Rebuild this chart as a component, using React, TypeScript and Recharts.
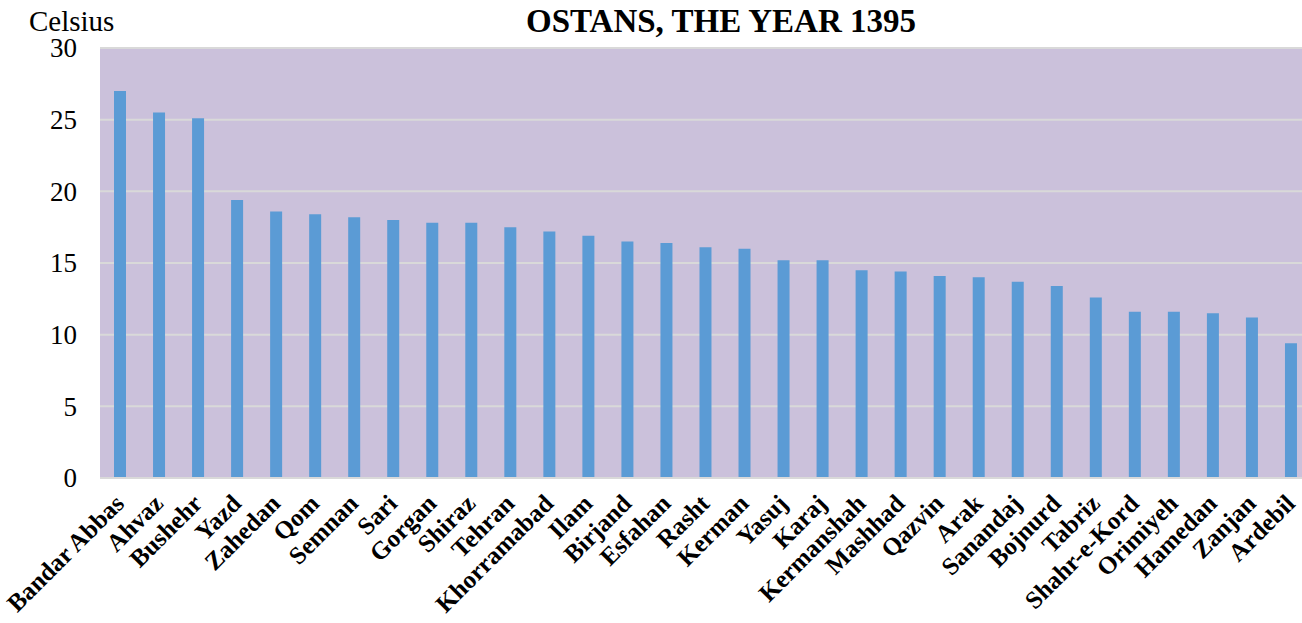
import { BarChart, Bar, XAxis, YAxis, CartesianGrid } from "recharts";

const cities = [
  "Bandar Abbas", "Ahvaz", "Bushehr", "Yazd", "Zahedan", "Qom", "Semnan",
  "Sari", "Gorgan", "Shiraz", "Tehran", "Khorramabad", "Ilam", "Birjand",
  "Esfahan", "Rasht", "Kerman", "Yasuj", "Karaj", "Kermanshah", "Mashhad",
  "Qazvin", "Arak", "Sanandaj", "Bojnurd", "Tabriz", "Shahr-e-Kord",
  "Orimiyeh", "Hamedan", "Zanjan", "Ardebil",
];

const temps = [
  27.0, 25.5, 25.1, 19.4, 18.6, 18.4, 18.2, 18.0, 17.8, 17.8, 17.5, 17.2,
  16.9, 16.5, 16.4, 16.1, 16.0, 15.2, 15.2, 14.5, 14.4, 14.1, 14.0, 13.7,
  13.4, 12.6, 11.6, 11.6, 11.5, 11.2, 9.4,
];

const yTicks = [0, 5, 10, 15, 20, 25, 30];

const data = cities.map((city, i) => ({ city, temp: temps[i] }));

const FONT = '"Liberation Serif", "Times New Roman", serif';

const CityTick = ({ x, y, payload }: any) => (
  <g transform={`translate(${x + 6},${y + 27}) rotate(-45)`}>
    <text
      x={0}
      y={0}
      textAnchor="end"
      style={{ fontFamily: FONT, fontWeight: "bold", fontSize: 25 }}
      fill="#000"
    >
      {payload.value}
    </text>
  </g>
);

const TempTick = ({ x, y, payload }: any) => (
  <text
    x={x}
    y={y}
    dy="0.35em"
    textAnchor="end"
    style={{ fontFamily: FONT, fontSize: 27 }}
    fill="#000"
  >
    {payload.value}
  </text>
);

export default function App() {
  return (
    <div
      style={{
        position: "absolute",
        top: 0,
        left: 0,
        width: 1302,
        height: 623,
        overflow: "hidden",
        background: "#fff",
        fontFamily: FONT,
      }}
    >
      <BarChart
        width={1320}
        height={623}
        data={data}
        margin={{ top: 48, right: 10, bottom: 0, left: 0 }}
        barCategoryGap={0}
        style={{ fontFamily: FONT }}
      >
        <CartesianGrid
          vertical={false}
          fill="#CBC1DB"
          stroke="#D9D9D9"
          strokeWidth={2}
        />
        <XAxis
          dataKey="city"
          interval={0}
          height={145}
          tickLine={false}
          tickSize={0}
          tickMargin={0}
          axisLine={{ stroke: "#D9D9D9", strokeWidth: 2 }}
          tick={<CityTick />}
        />
        <YAxis
          domain={[0, 30]}
          ticks={yTicks}
          width={100}
          axisLine={false}
          tickLine={false}
          tickSize={6}
          tickMargin={17}
          tick={<TempTick />}
        />
        <Bar
          dataKey="temp"
          fill="#5B9BD5"
          barSize={12}
          isAnimationActive={false}
        />
        <text
          x={29}
          y={31}
          style={{ fontFamily: FONT, fontSize: 29 }}
          fill="#000"
        >
          Celsius
        </text>
        <text
          x={721}
          y={32}
          textAnchor="middle"
          style={{ fontFamily: FONT, fontWeight: "bold", fontSize: 33 }}
          fill="#000"
        >
          OSTANS, THE YEAR 1395
        </text>
      </BarChart>
    </div>
  );
}
